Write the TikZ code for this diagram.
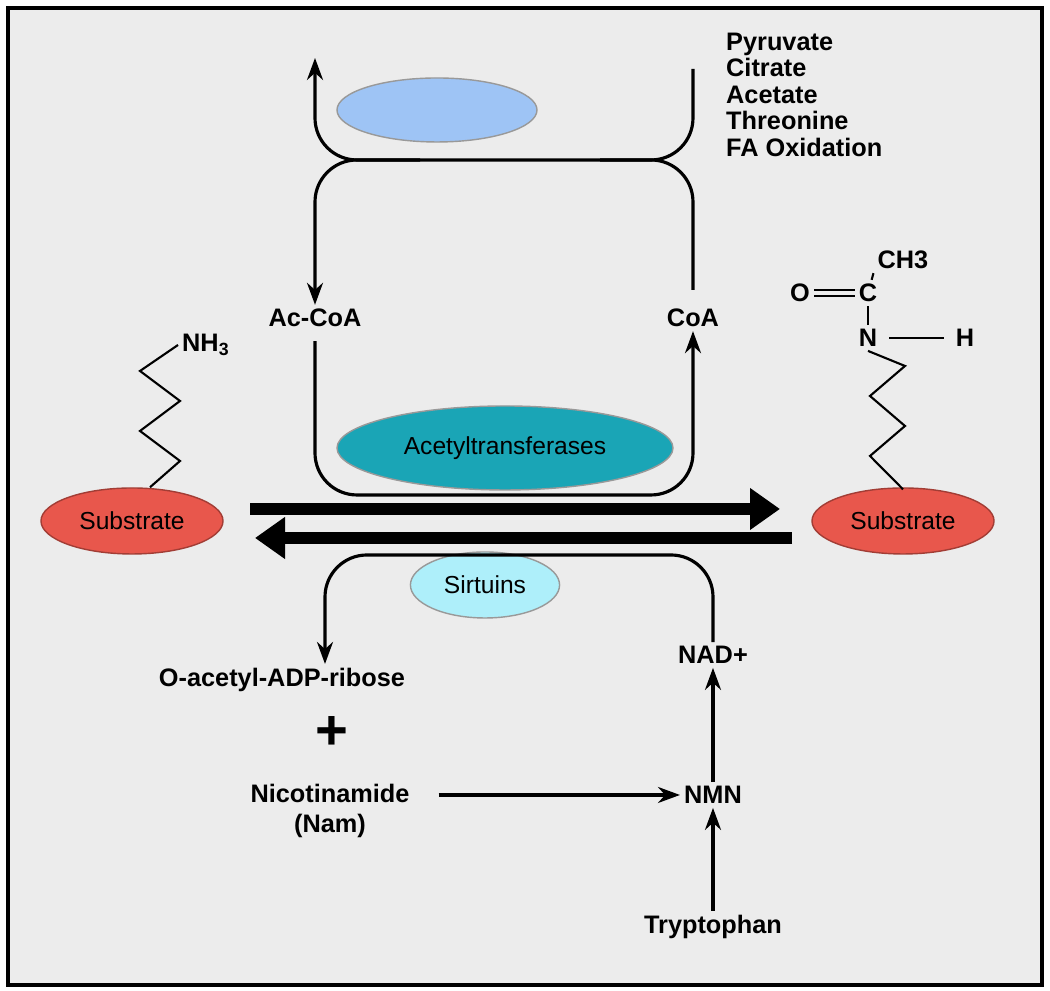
\documentclass[tikz,border=0pt]{standalone}
\usepackage{fontspec}
\setmainfont{Liberation Sans}
\usetikzlibrary{positioning, shapes, arrows.meta, calc}
\definecolor{panel}{HTML}{ECECEC}
\definecolor{enzblue}{HTML}{9EC4F5}
\definecolor{enzteal}{HTML}{1AA5B6}
\definecolor{enzcyan}{HTML}{AEEFFA}
\definecolor{subred}{HTML}{E8574C}

\begin{document}
\begin{tikzpicture}[
    lbl/.style={font=\fontsize{7.2}{8.5}\selectfont\bfseries, align=center, inner sep=1pt},
    enz/.style={ellipse, draw=black!40, thin, font=\fontsize{7}{8}\selectfont},
    flow/.style={line width=0.9pt, -{Stealth[length=2.2mm, width=1.6mm]}},
    loop/.style={line width=0.9pt, rounded corners=0.42cm},
    big/.style={line width=3.2pt, -{Triangle[length=3mm, width=4mm]}},
    bond/.style={line width=0.6pt}
  ]
  % Frame
  \draw[line width=1pt, fill=panel] (0.08,0.06) rectangle (10.42,9.83);
  \useasboundingbox (0,0) rectangle (10.5,9.91);

  % Enzymes and substrates
  \node[enz, fill=enzblue, minimum width=2.0cm, minimum height=0.64cm] (top) at (4.37,8.81) {};
  \node[enz, fill=enzteal, minimum width=3.36cm, minimum height=0.84cm] (acet) at (5.05,5.43) {Acetyltransferases};
  \node[enz, fill=enzcyan, minimum width=1.4cm, minimum height=0.66cm] (sirt) at (4.85,4.06) {Sirtuins};
  \node[enz, fill=subred, draw=subred!70!black, minimum width=1.8cm, minimum height=0.66cm] (subL) at (1.32,4.70) {Substrate};
  \node[enz, fill=subred, draw=subred!70!black, minimum width=1.8cm, minimum height=0.66cm] (subR) at (9.03,4.70) {Substrate};

  % Labels
  \node[lbl] (acoa) at (3.15,6.73) {Ac-CoA};
  \node[lbl] (coa) at (6.93,6.73) {CoA};
  \node[lbl, align=left, anchor=north west] (src) at (7.22,9.62) {Pyruvate\\[-1pt]Citrate\\[-1pt]Acetate\\[-1pt]Threonine\\[-1pt]FA Oxidation};
  \node[lbl] (oadp) at (2.82,3.11) {O-acetyl-ADP-ribose};
  \node[font=\fontsize{16}{16}\selectfont\bfseries] (plus) at (3.32,2.58) {+};
  \node[lbl] (nam) at (3.30,1.80) {Nicotinamide\\(Nam)};
  \node[lbl] (nad) at (7.13,3.36) {NAD+};
  \node[lbl] (nmn) at (7.13,1.96) {NMN};
  \node[lbl] (trp) at (7.13,0.64) {Tryptophan};

  % Acetyl-CoA cycle
  \coordinate (tl) at (3.15,9.33);
  \coordinate (tr) at (6.93,9.22);
  \draw[flow, rounded corners=0.42cm] (4.2,8.31) -| (tl);
  \draw[loop] (6.0,8.31) -| (tr);
  \draw[loop, flow] (6.93,7.01) |- (4.5,8.31) -| (acoa.north);
  \draw[loop, flow] (acoa.south) ++(0,-0.1) |- (5.0,4.96) -| (coa.south);

  % Main reaction
  \draw[big] (2.50,4.82) -- (7.80,4.82);
  \draw[big] (7.92,4.53) -- (2.55,4.53);

  % Sirtuin cycle
  \draw[loop, flow] (nad.north) |- (4.5,4.36) -| (oadp.north -| 3.25,0);
  \draw[flow] ($(nam.east |- nmn)+(0.25,0)$) -- (nmn);
  \draw[flow] (nmn) -- (nad);
  \draw[flow] (trp) -- (nmn);

  % Free amine
  \node[lbl, anchor=west] (nh) at (1.78,6.46) {NH\textsubscript{3}};
  \draw[bond] (subL.north) ++(0.18,0) -- (1.80,5.30) -- (1.40,5.60) -- (1.80,5.90) -- (1.40,6.20) -- (nh.west);

  % Acetylated amine
  \node[lbl] (n) at (8.68,6.53) {N};
  \node[lbl] (h) at (9.65,6.53) {H};
  \node[lbl] (c) at (8.68,6.98) {C};
  \node[lbl] (o) at (8.00,6.98) {O};
  \node[lbl] (ch3) at (9.03,7.31) {CH3};
  \draw[bond] (subR.north) ++(0,-0.02) -- (8.70,5.35) -- (9.05,5.65) -- (8.70,5.95) -- (9.05,6.25) -- (n.south);
  \draw[bond] ($(n.east)+(0.08,0)$) -- ($(h.west)+(-0.08,0)$);
  \draw[bond] (n) -- (c);
  \draw[bond] (c) -- (ch3.south west);
  \draw[bond] ($(o.east)+(0,0.03)$) -- ($(c.west)+(0,0.03)$);
  \draw[bond] ($(o.east)+(0,-0.03)$) -- ($(c.west)+(0,-0.03)$);
\end{tikzpicture}
\end{document}
